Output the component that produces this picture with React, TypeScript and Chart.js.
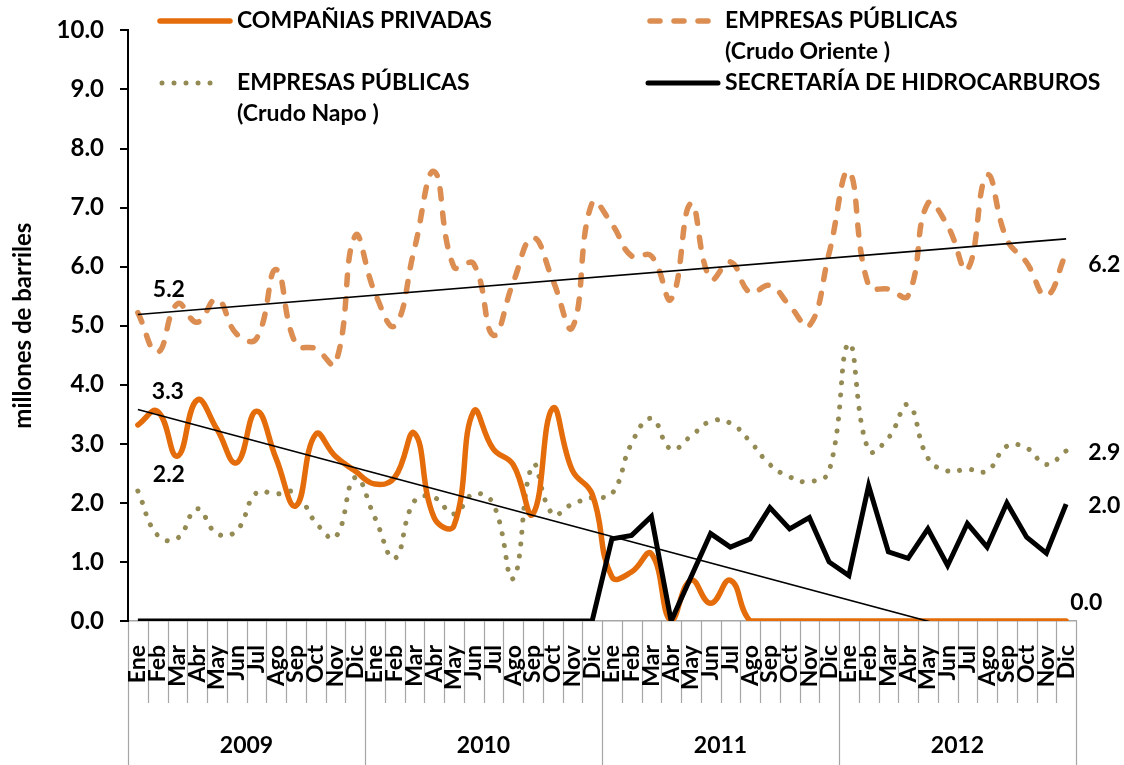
import React, { useEffect, useRef } from 'react';
import { Chart, registerables } from 'chart.js';
Chart.register(...registerables);

const months = ['Ene', 'Feb', 'Mar', 'Abr', 'May', 'Jun', 'Jul', 'Ago', 'Sep', 'Oct', 'Nov', 'Dic'];
const years = ['2009', '2010', '2011', '2012'];
const categories = years.flatMap(() => months);

const privadas = [
  3.32, 3.55, 2.79, 3.74, 3.25, 2.68, 3.55, 2.75, 1.95, 3.16, 2.79, 2.54,
  2.32, 2.43, 3.18, 1.75, 1.61, 3.55, 2.91, 2.65, 1.81, 3.6, 2.55, 2.15,
  0.75, 0.83, 1.14, 0.0, 0.69, 0.3, 0.69, 0.0, 0.0, 0.0, 0.0, 0.0,
  0.0, 0.0, 0.0, 0.0, 0.0, 0.0, 0.0, 0.0, 0.0, 0.0, 0.0, 0.0,
];
const oriente = [
  5.22, 4.55, 5.37, 5.06, 5.45, 4.86, 4.78, 5.95, 4.69, 4.61, 4.36, 6.52,
  5.56, 5.0, 6.3, 7.61, 6.0, 6.05, 4.84, 5.73, 6.49, 5.78, 4.97, 7.08,
  6.72, 6.18, 6.18, 5.45, 7.07, 5.79, 6.08, 5.56, 5.68, 5.34, 5.0, 6.23,
  7.61, 5.68, 5.62, 5.51, 7.07, 6.69, 5.95, 7.55, 6.46, 6.07, 5.51, 6.23,
];
const napo = [
  2.2, 1.45, 1.4, 1.9, 1.48, 1.53, 2.17, 2.15, 2.17, 1.67, 1.42, 2.43,
  1.75, 1.06, 2.03, 2.09, 1.81, 2.15, 1.98, 0.72, 2.64, 1.81, 1.98, 2.09,
  2.15, 3.01, 3.43, 2.91, 3.13, 3.38, 3.35, 3.04, 2.65, 2.44, 2.36, 2.54,
  4.7, 2.89, 3.1, 3.66, 2.76, 2.54, 2.57, 2.54, 2.96, 2.93, 2.65, 2.88,
];
const secretaria = [
  0, 0, 0, 0, 0, 0, 0, 0, 0, 0, 0, 0,
  0, 0, 0, 0, 0, 0, 0, 0, 0, 0, 0, 0,
  1.39, 1.45, 1.77, 0.0, 0.74, 1.48, 1.25, 1.39, 1.92, 1.56, 1.75, 1.0,
  0.77, 2.29, 1.17, 1.06, 1.56, 0.94, 1.65, 1.25, 2.0, 1.42, 1.15, 1.98,
];
// linear trend lines: values at first and last month
const trendPrivadasEnds = [3.58, -0.63];
const trendOrienteEnds = [5.19, 6.47];
const yTicks = [0, 1, 2, 3, 4, 5, 6, 7, 8, 9, 10];

const C_PRIV = '#E46C0A';
const C_ORI = '#DB8D52';
const C_NAPO = '#948A54';
const FONT = 'Lato';
const FS = 23;
const ORI_DASH = [10, 14];
const NAPO_DASH = [0.01, 12];

function endsToSeries(ends: number[]) {
  return categories.map((_, i) => (i === 0 ? ends[0] : i === categories.length - 1 ? ends[1] : null));
}

const legendItems = [
  { x1: 160, x2: 230, y: 21, color: C_PRIV, dash: [] as number[], width: 5.5, lines: ['COMPAÑIAS PRIVADAS'], tx: 237 },
  { x1: 650, x2: 709, y: 21, color: C_ORI, dash: ORI_DASH, width: 5.5, lines: ['EMPRESAS PÚBLICAS', '(Crudo Oriente )'], tx: 725 },
  { x1: 162, x2: 222, y: 83, color: C_NAPO, dash: NAPO_DASH, width: 5, lines: ['EMPRESAS PÚBLICAS', '(Crudo Napo )'], tx: 237 },
  { x1: 648, x2: 718, y: 83, color: '#000', dash: [] as number[], width: 5, lines: ['SECRETARÍA DE HIDROCARBUROS'], tx: 725 },
];

// data labels: dataset index, point index, offset and alignment
const dataLabels = [
  { ds: 4, idx: 0, dx: 31, dy: -23, align: 'center' },
  { ds: 3, idx: 0, dx: 30, dy: -33, align: 'center' },
  { ds: 5, idx: 0, dx: 31, dy: -16, align: 'center' },
  { ds: 4, idx: 47, dx: 22, dy: 12, align: 'left' },
  { ds: 5, idx: 47, dx: 22, dy: 2, align: 'left' },
  { ds: 2, idx: 47, dx: 22, dy: 2, align: 'left' },
  { ds: 3, idx: 47, dx: 4, dy: -18, align: 'left' },
];

const extrasPlugin = {
  id: 'extras',
  beforeDraw(chart: any) {
    const { ctx, chartArea } = chart;
    const n = categories.length;
    const w = (chartArea.right - chartArea.left) / n;
    ctx.save();
    ctx.strokeStyle = '#A6A6A6';
    ctx.lineWidth = 1.2;
    for (let i = 0; i <= n; i++) {
      const px = Math.round(chartArea.left + i * w) + 0.5;
      const yEnd = i % 12 === 0 ? chart.height : chartArea.bottom + 82;
      ctx.beginPath();
      ctx.moveTo(px, chartArea.bottom);
      ctx.lineTo(px, yEnd);
      ctx.stroke();
    }
    ctx.fillStyle = '#000';
    ctx.font = `bold ${FS}px ${FONT}`;
    ctx.textAlign = 'center';
    ctx.textBaseline = 'middle';
    years.forEach((yr, k) => {
      const cx = chartArea.left + (k * 12 + 6) * w;
      ctx.fillText(yr, cx, 746);
    });
    ctx.restore();
  },
  afterDraw(chart: any) {
    const { ctx } = chart;
    ctx.save();
    legendItems.forEach((it) => {
      ctx.beginPath();
      ctx.strokeStyle = it.color;
      ctx.lineWidth = it.width;
      ctx.lineCap = 'round';
      ctx.setLineDash(it.dash);
      ctx.moveTo(it.x1, it.y);
      ctx.lineTo(it.x2, it.y);
      ctx.stroke();
      ctx.setLineDash([]);
      ctx.fillStyle = '#000';
      ctx.font = `bold ${FS}px ${FONT}`;
      ctx.textAlign = 'left';
      ctx.textBaseline = 'middle';
      it.lines.forEach((t, j) => ctx.fillText(t, it.tx, it.y + j * 31));
    });
    ctx.font = `bold ${FS}px ${FONT}`;
    ctx.textBaseline = 'middle';
    ctx.fillStyle = '#000';
    dataLabels.forEach((l) => {
      const meta = chart.getDatasetMeta(l.ds);
      const pt = meta.data[l.idx];
      const v = chart.data.datasets[l.ds].data[l.idx] as number;
      ctx.textAlign = l.align;
      ctx.fillText(v.toFixed(1), pt.x + l.dx, pt.y + l.dy);
    });
    ctx.restore();
  },
};

export default function App() {
  const ref = useRef<HTMLCanvasElement>(null);
  useEffect(() => {
    document.body.style.margin = '0';
    document.body.style.overflow = 'hidden';
    const chart = new Chart(ref.current!, {
      type: 'line',
      data: {
        labels: categories,
        datasets: [
          { label: 'Tendencia privadas', data: endsToSeries(trendPrivadasEnds), borderColor: '#000', borderWidth: 1.6, spanGaps: true, tension: 0, pointRadius: 0 },
          { label: 'Tendencia oriente', data: endsToSeries(trendOrienteEnds), borderColor: '#000', borderWidth: 1.6, spanGaps: true, tension: 0, pointRadius: 0 },
          { label: 'SECRETARÍA DE HIDROCARBUROS', data: secretaria, borderColor: '#000', borderWidth: 5, tension: 0, pointRadius: 0, borderJoinStyle: 'miter', borderCapStyle: 'butt' },
          { label: 'COMPAÑIAS PRIVADAS', data: privadas, borderColor: C_PRIV, borderWidth: 5.5, tension: 0.45, pointRadius: 0, borderCapStyle: 'round', borderJoinStyle: 'round' },
          { label: 'EMPRESAS PÚBLICAS (Crudo Oriente )', data: oriente, borderColor: C_ORI, borderWidth: 5.5, tension: 0.45, pointRadius: 0, borderDash: ORI_DASH, borderCapStyle: 'round' },
          { label: 'EMPRESAS PÚBLICAS (Crudo Napo )', data: napo, borderColor: C_NAPO, borderWidth: 5, tension: 0.45, pointRadius: 0, borderDash: NAPO_DASH, borderCapStyle: 'round' },
        ] as any,
      },
      options: {
        responsive: false,
        animation: false,
        events: [],
        layout: { padding: { top: 27, right: 48, left: 0, bottom: 0 } },
        plugins: { legend: { display: false }, tooltip: { enabled: false }, title: { display: false } },
        scales: {
          x: {
            type: 'category',
            offset: true,
            grid: { display: false, drawTicks: false },
            border: { display: true, color: '#A6A6A6', width: 1.5 },
            ticks: {
              autoSkip: false,
              minRotation: 90,
              maxRotation: 90,
              padding: 24,
              color: '#000',
              font: { family: FONT, size: FS, weight: 'bold' },
            },
            afterFit: (s: any) => { s.height = 144; },
          },
          y: {
            min: 0,
            max: 10,
            afterBuildTicks: (s: any) => { s.ticks = yTicks.map((v) => ({ value: v })); },
            ticks: {
              callback: (v: any) => Number(v).toFixed(1),
              color: '#000',
              padding: 16,
              font: { family: FONT, size: 24, weight: 'bold' },
            },
            grid: { drawOnChartArea: false, drawTicks: true, tickLength: 8, color: '#000', lineWidth: 2 },
            border: { display: true, color: '#000', width: 2 },
            title: {
              display: true,
              text: 'millones de barriles',
              color: '#000',
              font: { family: FONT, size: 24, weight: 'bold' },
              padding: { top: 9, bottom: 0 },
            },
            afterFit: (s: any) => { s.width = 128; },
          },
        },
      },
      plugins: [extrasPlugin],
    });
    return () => chart.destroy();
  }, []);
  return (
    <div style={{ width: 1124, height: 765 }}>
      <canvas ref={ref} width={1124} height={765} style={{ display: 'block' }} />
    </div>
  );
}
